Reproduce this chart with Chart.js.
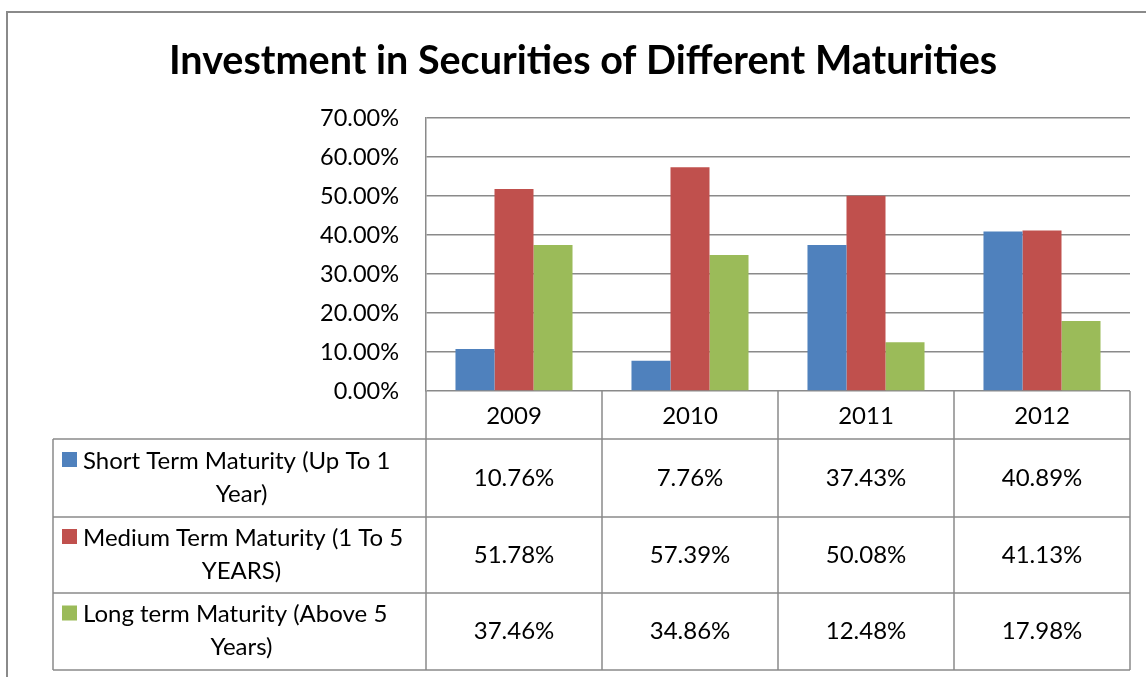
<!DOCTYPE html>
<html>
<head>
<meta charset="utf-8">
<script src="https://cdn.jsdelivr.net/npm/chart.js@4"></script>
<style>
  html, body { margin: 0; padding: 0; background: #fff; }
  #wrap { width: 1146px; height: 677px; }
</style>
</head>
<body>
<div id="wrap"><canvas id="maturityChart"></canvas></div>
<script>
const years = ["2009", "2010", "2011", "2012"];
const shortTerm = [10.76, 7.76, 37.43, 40.89];
const mediumTerm = [51.78, 57.39, 50.08, 41.13];
const longTerm = [37.46, 34.86, 12.48, 17.98];
const seriesNames = [
  ["Short Term Maturity (Up To 1", "Year)"],
  ["Medium Term Maturity (1 To 5", "YEARS)"],
  ["Long term Maturity (Above 5", "Years)"],
];
const yTicks = [0, 10, 20, 30, 40, 50, 60, 70];

const colors = ["#4F81BD", "#C0504D", "#9BBB59"];
const lineGray = "#8a8a8a";
const font = "Lato, 'Liberation Sans', sans-serif";

// draws title, outer frame and the data table under the plot
const tablePlugin = {
  id: "dataTable",
  afterDraw(chart) {
    const ctx = chart.ctx;
    const area = chart.chartArea;
    const xs = chart.scales.x;
    const colW = (area.right - area.left) / years.length;
    const headerBottom = 439;
    const rowLines = [439, 517, 593, 670];
    const labelLeft = 53;

    ctx.save();
    // outer frame
    ctx.strokeStyle = lineGray;
    ctx.lineWidth = 2;
    ctx.strokeRect(7, 12, 1160, 700);

    // title
    ctx.fillStyle = "#000";
    ctx.font = "bold 39.5px " + font;
    ctx.textAlign = "center";
    ctx.textBaseline = "middle";
    ctx.fillText("Investment in Securities of Different Maturities", 583, 61);

    ctx.lineWidth = 1.5;
    ctx.strokeStyle = lineGray;
    ctx.beginPath();
    // column lines
    for (let i = 0; i <= years.length; i++) {
      const x = area.left + i * colW;
      ctx.moveTo(x, area.bottom);
      ctx.lineTo(x, rowLines[rowLines.length - 1]);
    }
    // row lines
    ctx.moveTo(area.left, headerBottom);
    ctx.lineTo(area.right, headerBottom);
    rowLines.forEach((y) => {
      ctx.moveTo(labelLeft, y);
      ctx.lineTo(area.right, y);
    });
    ctx.moveTo(labelLeft, rowLines[0]);
    ctx.lineTo(labelLeft, rowLines[rowLines.length - 1]);
    ctx.stroke();

    ctx.font = "24px " + font;
    ctx.fillStyle = "#000";
    // header
    years.forEach((yr, i) => {
      ctx.fillText(yr, xs.getPixelForValue(i), (area.bottom + headerBottom) / 2 + 1);
    });

    const allSeries = [shortTerm, mediumTerm, longTerm];
    allSeries.forEach((vals, r) => {
      const top = rowLines[r];
      const bottom = rowLines[r + 1];
      const mid = (top + bottom) / 2;
      // legend key + label
      ctx.fillStyle = colors[r];
      ctx.fillRect(62, mid - 26, 15, 15);
      ctx.fillStyle = "#000";
      ctx.textAlign = "left";
      ctx.fillText(seriesNames[r][0], 83, mid - 17);
      ctx.textAlign = "center";
      ctx.fillText(seriesNames[r][1], (labelLeft + area.left) / 2 + 2, mid + 16);
      vals.forEach((v, i) => {
        ctx.fillText(v.toFixed(2) + "%", xs.getPixelForValue(i), mid);
      });
    });
    ctx.restore();
  },
};

new Chart(document.getElementById("maturityChart"), {
  type: "bar",
  data: {
    labels: years,
    datasets: [
      { label: seriesNames[0].join(" "), data: shortTerm, backgroundColor: colors[0] },
      { label: seriesNames[1].join(" "), data: mediumTerm, backgroundColor: colors[1] },
      { label: seriesNames[2].join(" "), data: longTerm, backgroundColor: colors[2] },
    ],
  },
  options: {
    responsive: true,
    maintainAspectRatio: false,
    animation: false,
    layout: { padding: { top: 118, right: 16, left: 0, bottom: 0 } },
    datasets: { bar: { categoryPercentage: 0.665, barPercentage: 1.0 } },
    plugins: {
      legend: { display: false },
      title: { display: false },
      tooltip: { enabled: false },
    },
    scales: {
      x: {
        grid: { display: false },
        border: { display: false },
        ticks: { display: false },
        afterFit(scale) {
          scale.height = 286;
        },
      },
      y: {
        min: 0,
        max: 70,
        afterBuildTicks(scale) {
          scale.ticks = yTicks.map((v) => ({ value: v }));
        },
        ticks: {
          padding: 27,
          color: "#000",
          font: { family: font, size: 23.5 },
          callback: (v) => v.toFixed(2) + "%",
        },
        grid: { color: lineGray, lineWidth: 1.5, drawTicks: false },
        border: { color: lineGray, width: 1.5 },
        afterFit(scale) {
          scale.width = 426;
        },
      },
    },
  },
  plugins: [tablePlugin],
});
</script>
</body>
</html>
